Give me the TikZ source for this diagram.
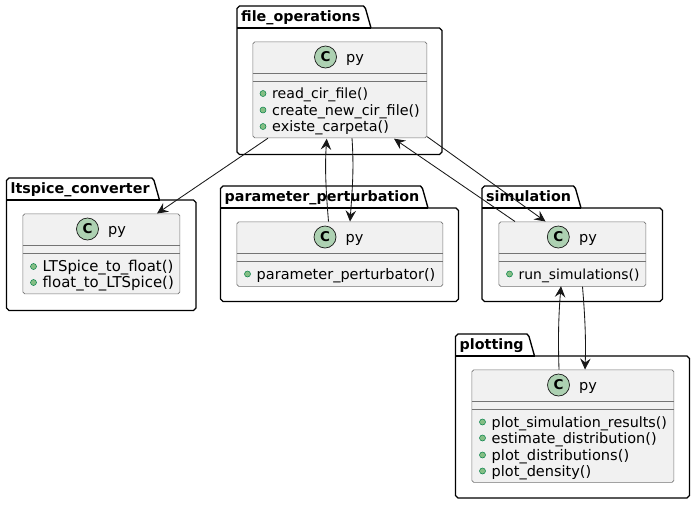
\documentclass[tikz,border=0pt]{standalone}
\usepackage{fontspec}
\setmainfont{DejaVu Sans}
\usetikzlibrary{arrows.meta,calc}
\definecolor{ink}{HTML}{181818}
\definecolor{classbg}{HTML}{F1F1F1}
\definecolor{circbg}{HTML}{ADD1B2}
\definecolor{dotbg}{HTML}{84BE84}
\definecolor{dotline}{HTML}{038048}
\tikzset{
  x=1pt,y=-1pt,
  pkgline/.style={draw=black,line width=1.35pt,fill=white,line join=round},
  pkgtitle/.style={font=\bfseries\fontsize{14.3}{16}\selectfont,inner sep=0pt,anchor=base west,text=black},
  classbox/.style={draw=ink!60,line width=0.7pt,fill=classbg,rounded corners=1.8pt,inner sep=0pt,anchor=north west},
  sepline/.style={draw=ink!60,line width=0.7pt},
  circlemark/.style={circle,draw=ink,line width=0.7pt,fill=circbg,minimum size=22pt,inner sep=0pt,font=\bfseries\fontsize{13.5}{14}\selectfont},
  classname/.style={font=\fontsize{14.5}{16}\selectfont,inner sep=0pt,anchor=base,text=black},
  methdot/.style={circle,draw=dotline,line width=0.5pt,fill=dotbg,minimum size=6pt,inner sep=0pt},
  methtext/.style={inner sep=0pt,anchor=base west,text=black},
  conn/.style={draw=ink,line width=0.85pt,-{Stealth[length=11pt,width=10.5pt,inset=4pt]}},
}
% name, x-left, tab top, tab right at top, body top, x-right, bottom, title
\newcommand{\umlpkg}[8]{%
  \draw[pkgline] (#2,#5) -- (#2,#3+2.5) -- (#2+2.5,#3) -- (#4,#3) -- (#4+2,#3+2.5) -- (#4+7.5,#5) -- (#6-2.5,#5) -- (#6,#5+2.5) -- (#6,#7-2.5) -- (#6-2.5,#7) -- (#2+2.5,#7) -- (#2,#7-2.5) -- cycle;
  \draw[pkgline,fill=none] (#2,#5) -- (#4+7.5,#5);
  \node[pkgtitle] (#1-title) at (#2+4,#3+15) {#8};
}
% name, x1, y1, x2, y2, circle x, name x
\newcommand{\umlclass}[7]{%
  \node[classbox,minimum width=#4-#2,minimum height=#5-#3] (#1) at (#2,#3) {};
  \draw[sepline] (#2,#3+32) -- (#4,#3+32);
  \draw[sepline] (#2,#3+40) -- (#4,#3+40);
  \node[circlemark] (#1-c) at (#6,#3+15.5) {C};
  \node[classname] (#1-n) at (#7,#3+20.5) {py};
}
% owner, index, dot x, centre y, text, font size
\newcommand{\umlmeth}[6]{%
  \node[methdot] (#1-d#2) at (#3,#4) {};
  \node[methtext,font=\fontsize{#6}{16}\selectfont] (#1-m#2) at (#3+9,#4+5) {#5};
}
\begin{document}
\begin{tikzpicture}
\useasboundingbox (0,0) rectangle (695,504);
\umlpkg{pf}{237}{6}{363.5}{28}{442}{154.5}{file\_operations}
\umlpkg{pl}{6.5}{178}{152}{200}{196}{310.5}{ltspice\_converter}
\umlpkg{pp}{220.5}{186}{420.5}{208}{458.5}{301.5}{parameter\_perturbation}
\umlpkg{ps}{482}{186}{573.5}{208}{662.5}{301.5}{simulation}
\umlpkg{pq}{455.5}{334}{527}{356}{689.5}{498}{plotting}

\umlclass{fo}{252.5}{41.5}{426.5}{137.5}{325.5}{355}
\umlmeth{fo}{1}{263}{93.5}{read\_cir\_file()}{14.1}
\umlmeth{fo}{2}{263}{110}{create\_new\_cir\_file()}{14.35}
\umlmeth{fo}{3}{263}{126.5}{existe\_carpeta()}{14.4}

\umlclass{lt}{22.5}{213.5}{179.5}{293.5}{87.5}{117}
\umlmeth{lt}{1}{33.5}{266.5}{LTSpice\_to\_float()}{14.9}
\umlmeth{lt}{2}{33.5}{282.5}{float\_to\_LTSpice()}{14.95}

\umlclass{pe}{236.5}{221.5}{442.5}{286}{325}{354.5}
\umlmeth{pe}{1}{247.5}{274}{parameter\_perturbator()}{14.5}

\umlclass{si}{498.5}{221.5}{645.5}{286}{558.3}{588}
\umlmeth{si}{1}{509.5}{274}{run\_simulations()}{13.9}

\umlclass{pt}{471.5}{369.5}{673.5}{482}{558.5}{588}
\umlmeth{pt}{1}{482.5}{422}{plot\_simulation\_results()}{14.3}
\umlmeth{pt}{2}{482.5}{438}{estimate\_distribution()}{14.5}
\umlmeth{pt}{3}{482.5}{455}{plot\_distributions()}{14.6}
\umlmeth{pt}{4}{482.5}{471}{plot\_density()}{14.5}

\draw[conn] ($(fo.south west)+(15.5,0)$) -- ($(lt.north west)+(134.5,0)$);
\draw[conn] ($(pe.north west)+(92,0)$) .. controls +(-2.5,-30) and +(-2,30) .. ($(fo.south west)+(74.2,0.5)$);
\draw[conn] ($(fo.south west)+(99.5,0)$) .. controls +(2,30) and +(2.5,-35) .. ($(pe.north west)+(113.5,0)$);
\draw[conn] ($(si.north west)+(16.5,0)$) -- ($(fo.south west)+(141.5,0.5)$);
\draw[conn] ($(fo.south east)+(0,-1.5)$) -- ($(si.north west)+(47,0)$);
\draw[conn] ($(pt.north west)+(87.5,0)$) .. controls +(-1,-30) and +(-2.5,30) .. ($(si.south west)+(62.5,-0.5)$);
\draw[conn] ($(si.south west)+(84,0)$) .. controls +(2.5,30) and +(1,-30) .. ($(pt.north west)+(113.5,0)$);
\end{tikzpicture}
\end{document}
